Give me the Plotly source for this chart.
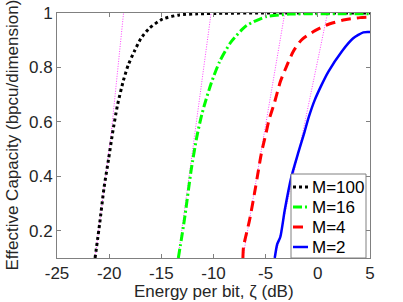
import plotly.graph_objects as go

# ---- data ----
m100_x = [-21.35, -20.9, -20.5, -20.05, -19.68, -19.2, -18.62, -18.17, -17.6, -16.95, -16.15, -14.87, -13.27, -11.5, -9, -6, -3, 0, 5]
m100_y = [0.1, 0.23, 0.356, 0.465, 0.558, 0.662, 0.754, 0.809, 0.858, 0.907, 0.944, 0.978, 0.993, 0.997, 0.999, 1.0, 1.0, 1.0, 1.0]

m16_x = [-13.37, -12.79, -12.14, -11.6, -11.2, -10.87, -10.22, -9.42, -8.3, -6.86, -4.93, -2.69, 0, 2.5, 5]
m16_y = [0.1, 0.24, 0.423, 0.545, 0.615, 0.662, 0.742, 0.821, 0.895, 0.953, 0.987, 0.996, 0.997, 0.997, 0.997]

m4_x = [-7.18, -7.12, -6.54, -5.96, -5.41, -4.97, -4.68, -4.13, -3.59, -3.01, -2.37, -1.57, -0.45, 0.84, 2.44, 4.04, 5]
m4_y = [0.1, 0.142, 0.24, 0.362, 0.485, 0.558, 0.607, 0.674, 0.748, 0.803, 0.858, 0.901, 0.931, 0.956, 0.974, 0.983, 0.985]

m2_x = [-4.13, -3.9, -3.59, -3.17, -2.53, -1.89, -1.3, -0.85, -0.3, 0.36, 1.0, 2.28, 3.39, 4.36, 5]
m2_y = [0.1, 0.15, 0.178, 0.276, 0.399, 0.485, 0.56, 0.62, 0.68, 0.736, 0.784, 0.858, 0.907, 0.929, 0.93]

# low-SNR approximation lines (magenta dotted)
approx1_x = [-21.35, -19.8, -18.62]
approx2_x = [-13.4, -11.8, -10.23]
approx3_x = [-7.18, -5.1, -3.17]
approx4_x = [-4.1, -1.45, 0.93]
approx_y = [0.1, 0.56, 1.0]

x_ticks = [-25, -20, -15, -10, -5, 0, 5]
y_ticks = [0.2, 0.4, 0.6, 0.8, 1]
y_tick_text = ["0.2", "0.4", "0.6", "0.8", "1"]

series_names = ["M=100", "M=16", "M=4", "M=2"]

FONT = "Liberation Sans, Arial, Helvetica, sans-serif"
TXT = "#262626"

styles = [
    dict(color="black", width=3, dash="3px,3px"),
    dict(color="#00ff00", width=3, dash="9px,3px,2px,3px"),
    dict(color="#ff0000", width=3, dash="10px,6px"),
    dict(color="#0000ff", width=2.5, dash="solid"),
]

fig = go.Figure()

for ax in [approx1_x, approx2_x, approx3_x, approx4_x]:
    fig.add_trace(go.Scatter(x=ax, y=approx_y, mode="lines", showlegend=False,
                             line=dict(color="#ff40ff", width=1, dash="1px,1.5px"),
                             hoverinfo="skip"))

for xs, ys, nm, st in zip([m100_x, m16_x, m4_x, m2_x], [m100_y, m16_y, m4_y, m2_y], series_names, styles):
    fig.add_trace(go.Scatter(x=xs, y=ys, mode="lines", name=nm, showlegend=False,
                             line=dict(shape="spline", smoothing=0.6, **st)))

axis_common = dict(showgrid=False, zeroline=False, showline=True, linecolor="#808080",
                   linewidth=1, mirror="ticks", ticks="inside", ticklen=4, tickcolor="#808080",
                   automargin=False,
                   tickfont=dict(family=FONT, size=17, color=TXT))

fig.update_xaxes(range=[-25, 5], tickvals=x_ticks, ticktext=[str(v) for v in x_ticks], **axis_common)
fig.update_yaxes(range=[0.1, 1], tickvals=y_ticks, ticktext=y_tick_text, **axis_common)

# ---- legend box (drawn inside the axes, bottom-right, like the reference) ----
PW, PH = 313.0, 245.0  # plot area size in px
def px(dx):
    return dx / PW
def py(dy):
    return dy / PH

shapes = [dict(type="rect", xref="paper", yref="paper",
               x0=1 - px(4), x1=1 - px(79), y0=0, y1=py(84),
               line=dict(color="#808080", width=1), fillcolor="white", layer="above")]
annotations = []
for i, (nm, st) in enumerate(zip(series_names, styles)):
    yc = py(84 - 13 - 20 * i)
    shapes.append(dict(type="line", xref="paper", yref="paper",
                       x0=1 - px(77), x1=1 - px(62), y0=yc, y1=yc,
                       line=dict(color=st["color"], width=st["width"], dash=st["dash"]),
                       layer="above"))
    annotations.append(dict(text=nm, xref="paper", yref="paper", x=1 - px(60), y=yc,
                            xanchor="left", yanchor="middle", showarrow=False,
                            font=dict(family=FONT, size=17, color="black")))

annotations += [
    dict(text="Energy per bit, \u03b6 (dB)", xref="paper", yref="paper", x=0.5, y=0,
         xanchor="center", yanchor="middle", yshift=-33, showarrow=False,
         font=dict(family=FONT, size=17, color=TXT)),
    dict(text="Effective Capacity (bpcu/dimension)", xref="paper", yref="paper", x=0, y=0.5,
         xanchor="center", yanchor="middle", xshift=-45, textangle=-90, showarrow=False,
         font=dict(family=FONT, size=17, color=TXT)),
]

fig.update_layout(
    width=403, height=302,
    margin=dict(l=57, r=33, t=13, b=44, autoexpand=False),
    paper_bgcolor="white", plot_bgcolor="white",
    font=dict(family=FONT, size=17, color=TXT),
    showlegend=False,
    shapes=shapes,
    annotations=annotations,
)

fig.write_html("out.html", config={"displayModeBar": False},
               post_script="document.body.style.margin='0';")
